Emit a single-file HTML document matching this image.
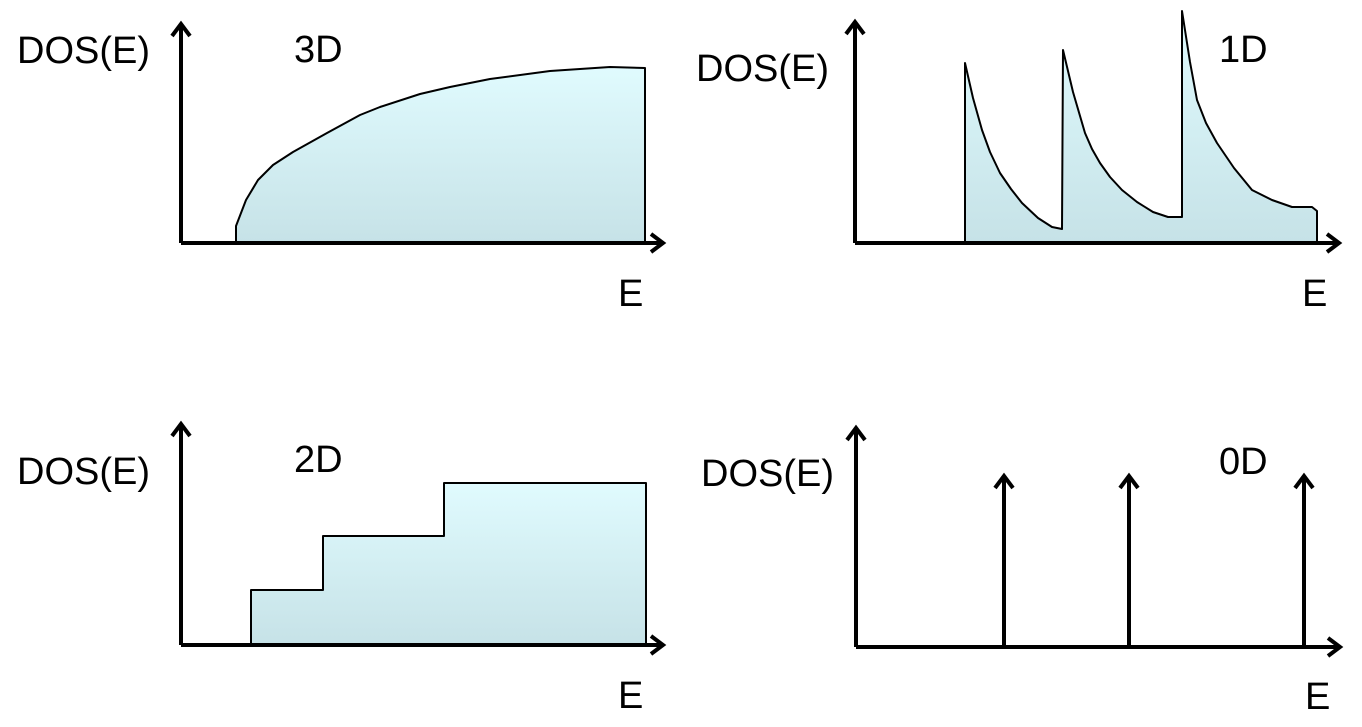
<!DOCTYPE html>
<html><head><meta charset="utf-8"><style>
html,body{margin:0;padding:0;background:#fff;}
svg{display:block;}
text{font-family:"Liberation Sans",Arial,sans-serif;font-size:38px;fill:#000;}
</style></head><body>
<svg width="1362" height="727" viewBox="0 0 1362 727" xmlns="http://www.w3.org/2000/svg">
<defs>
<linearGradient id="g" x1="0" y1="0" x2="0" y2="1">
<stop offset="0" stop-color="#e0fbfe"/><stop offset="1" stop-color="#c6e2e7"/>
</linearGradient>
</defs>
<g stroke="#000" stroke-width="2" fill="url(#g)" stroke-linejoin="round">
<path d="M236,243 L236,226 L246,200 L258,180 L273,165 L293,152 L327,133 L360,115 L380,107 L420,94 L450,87 L490,79 L550,71 L610,67 L645,68 L645,243 Z"/>
<path d="M965,243 L965,63 L973,98 L982,130 L990,152 L1000,173 L1011,189 L1022,203 L1038,218 L1052,227 L1062,229 L1063,50 L1073,92 L1085,133 L1092,149 L1100,163 L1110,177 L1122,190 L1137,202 L1153,212 L1168,217 L1182,217 L1182,11 L1190,62 L1197,100 L1206,123 L1217,143 L1234,168 L1252,190 L1272,200 L1292,207 L1312,207 L1317,211 L1317,243 Z"/>
<path d="M251,645 L251,590 L323,590 L323,536 L444,536 L444,483 L646,483 L646,645 Z"/>
</g>
<g stroke="#000" stroke-width="4" fill="none" stroke-linecap="butt" stroke-linejoin="miter">
<path d="M181,243 L181,24 M172,36 L181,24 L190,36"/>
<path d="M181,243 L663,243 M651,234 L663,243 L651,252"/>
<path d="M855,243 L855,22 M846,34 L855,22 L864,34"/>
<path d="M855,243 L1339,243 M1327,234 L1339,243 L1327,252"/>
<path d="M181,645 L181,424 M172,436 L181,424 L190,436"/>
<path d="M181,645 L663,645 M651,636 L663,645 L651,654"/>
<path d="M856,647 L856,428 M847,440 L856,428 L865,440"/>
<path d="M856,647 L1340,647 M1328,638 L1340,647 L1328,656"/>
<path d="M1004,647 L1004,476 M995,488 L1004,476 L1013,488"/>
<path d="M1129,647 L1129,476 M1120,488 L1129,476 L1138,488"/>
<path d="M1304,647 L1304,476 M1295,488 L1304,476 L1313,488"/>
</g>
<text x="17" y="63">DOS(E)</text>
<text x="294" y="62">3D</text>
<text x="618" y="306">E</text>
<text x="696" y="81">DOS(E)</text>
<text x="1219" y="62">1D</text>
<text x="1302" y="306">E</text>
<text x="17" y="484">DOS(E)</text>
<text x="294" y="472">2D</text>
<text x="618" y="708">E</text>
<text x="701" y="486">DOS(E)</text>
<text x="1219" y="474">0D</text>
<text x="1305" y="709">E</text>
</svg>
</body></html>
